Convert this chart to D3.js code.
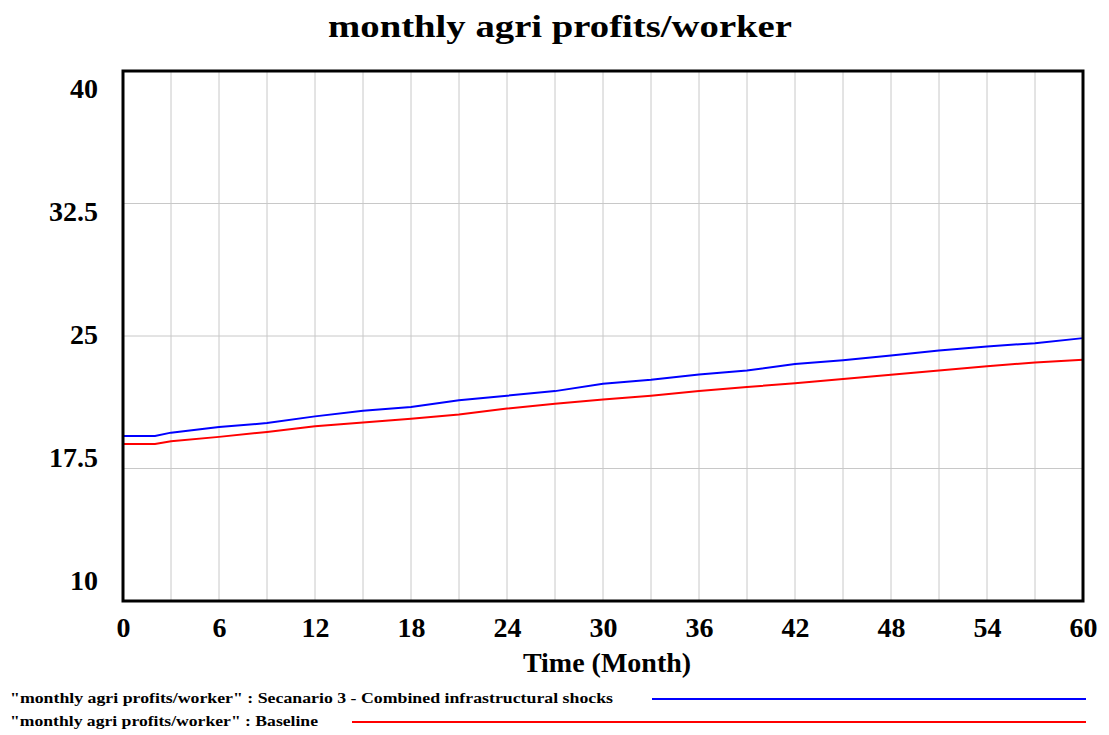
<!DOCTYPE html>
<html>
<head>
<meta charset="utf-8">
<script src="https://cdn.jsdelivr.net/npm/d3@7"></script>
<style>
  body { margin: 0; background: #fff; }
  svg { display: block; }
  text { font-family: "Liberation Serif", "Times New Roman", serif; font-weight: bold; fill: #000; }
</style>
</head>
<body>
<svg id="chart" width="1109" height="735"></svg>
<script>
const months = [0, 2, 3, 6, 9, 12, 15, 18, 21, 24, 27, 30, 33, 36, 39, 42, 45, 48, 51, 54, 57, 60];
const scenario3 = [19.34, 19.34, 19.53, 19.85, 20.07, 20.45, 20.77, 20.98, 21.36, 21.62, 21.88, 22.3,
  22.52, 22.82, 23.05, 23.41, 23.63, 23.9, 24.18, 24.41, 24.59, 24.88];
const baseline = [18.89, 18.89, 19.04, 19.29, 19.57, 19.89, 20.1, 20.32, 20.55, 20.89, 21.17, 21.4,
  21.62, 21.88, 22.11, 22.33, 22.56, 22.81, 23.05, 23.29, 23.5, 23.66];
const xTicks = [0, 6, 12, 18, 24, 30, 36, 42, 48, 54, 60];
const yTicks = [10, 17.5, 25, 32.5, 40];
const seriesNames = [
  '"monthly agri profits/worker" : Secanario 3 - Combined infrastructural shocks',
  '"monthly agri profits/worker" : Baseline'
];

const svg = d3.select("#chart");
const pl = 123, pr = 1083, pt = 71, pb = 601;

const x = d3.scaleLinear().domain([0, 60]).range([pl, pr]);
const y = d3.scaleLinear().domain([10, 40]).range([pb, pt]);
// tick labels are spread a bit inside the frame, like the original tool does
const yLab = d3.scaleLinear().domain([10, 40]).range([580, 88]);

// title
svg.append("text")
  .attr("x", 560).attr("y", 37)
  .attr("text-anchor", "middle")
  .attr("font-size", 32)
  .attr("textLength", 464).attr("lengthAdjust", "spacingAndGlyphs")
  .text("monthly agri profits/worker");

// grid
const grid = svg.append("g").attr("stroke", "#c8c8c8").attr("stroke-width", 1);
grid.selectAll(".vg")
  .data(d3.range(3, 60, 3)).enter()
  .append("line")
  .attr("x1", d => x(d)).attr("x2", d => x(d))
  .attr("y1", pt).attr("y2", pb);
grid.selectAll(".hg")
  .data([17.5, 25, 32.5]).enter()
  .append("line")
  .attr("x1", pl).attr("x2", pr)
  .attr("y1", d => y(d)).attr("y2", d => y(d));

// series
const line_gen = d3.line()
  .x(d => x(d[0]))
  .y(d => y(d[1]));
const series = [
  { values: months.map((m, i) => [m, scenario3[i]]), color: "#0000ff" },
  { values: months.map((m, i) => [m, baseline[i]]), color: "#ff0000" }
];
svg.selectAll(".series")
  .data(series).enter()
  .append("path")
  .attr("fill", "none")
  .attr("stroke", d => d.color)
  .attr("stroke-width", 2)
  .attr("d", d => line_gen(d.values));

// frame
svg.append("rect")
  .attr("x", pl).attr("y", pt)
  .attr("width", pr - pl).attr("height", pb - pt)
  .attr("fill", "none").attr("stroke", "#000").attr("stroke-width", 3);

// y labels
const yAxis = svg.append("g")
  .attr("transform", "translate(98,0)")
  .call(d3.axisLeft(yLab).tickValues(yTicks).tickSize(0).tickPadding(0).tickFormat(d => d));
yAxis.select(".domain").remove();
yAxis.attr("font-size", null).attr("font-family", null);
yAxis.selectAll("text")
  .attr("font-size", 28)
  .attr("dy", "0.35em");

// x labels
const xAxis = svg.append("g")
  .attr("transform", `translate(0,${pb})`)
  .call(d3.axisBottom(x).tickValues(xTicks).tickSize(0).tickPadding(0).tickFormat(d => d));
xAxis.select(".domain").remove();
xAxis.attr("font-size", null).attr("font-family", null);
xAxis.selectAll("text")
  .attr("font-size", 28)
  .attr("y", 36).attr("dy", null);

svg.append("text")
  .attr("x", 607).attr("y", 672)
  .attr("text-anchor", "middle")
  .attr("font-size", 28)
  .text("Time (Month)");

// legend
const legend = [
  { name: seriesNames[0], color: "#0000ff", y: 703, w: 603, x1: 652 },
  { name: seriesNames[1], color: "#ff0000", y: 726, w: 308, x1: 352 }
];
const lg = svg.selectAll(".legend")
  .data(legend).enter()
  .append("g");
lg.append("text")
  .attr("x", 10).attr("y", d => d.y)
  .attr("font-size", 15)
  .attr("textLength", d => d.w).attr("lengthAdjust", "spacingAndGlyphs")
  .text(d => d.name);
lg.append("line")
  .attr("x1", d => d.x1).attr("x2", 1086)
  .attr("y1", d => d.y - 4).attr("y2", d => d.y - 4)
  .attr("stroke", d => d.color).attr("stroke-width", 2);
</script>
</body>
</html>
